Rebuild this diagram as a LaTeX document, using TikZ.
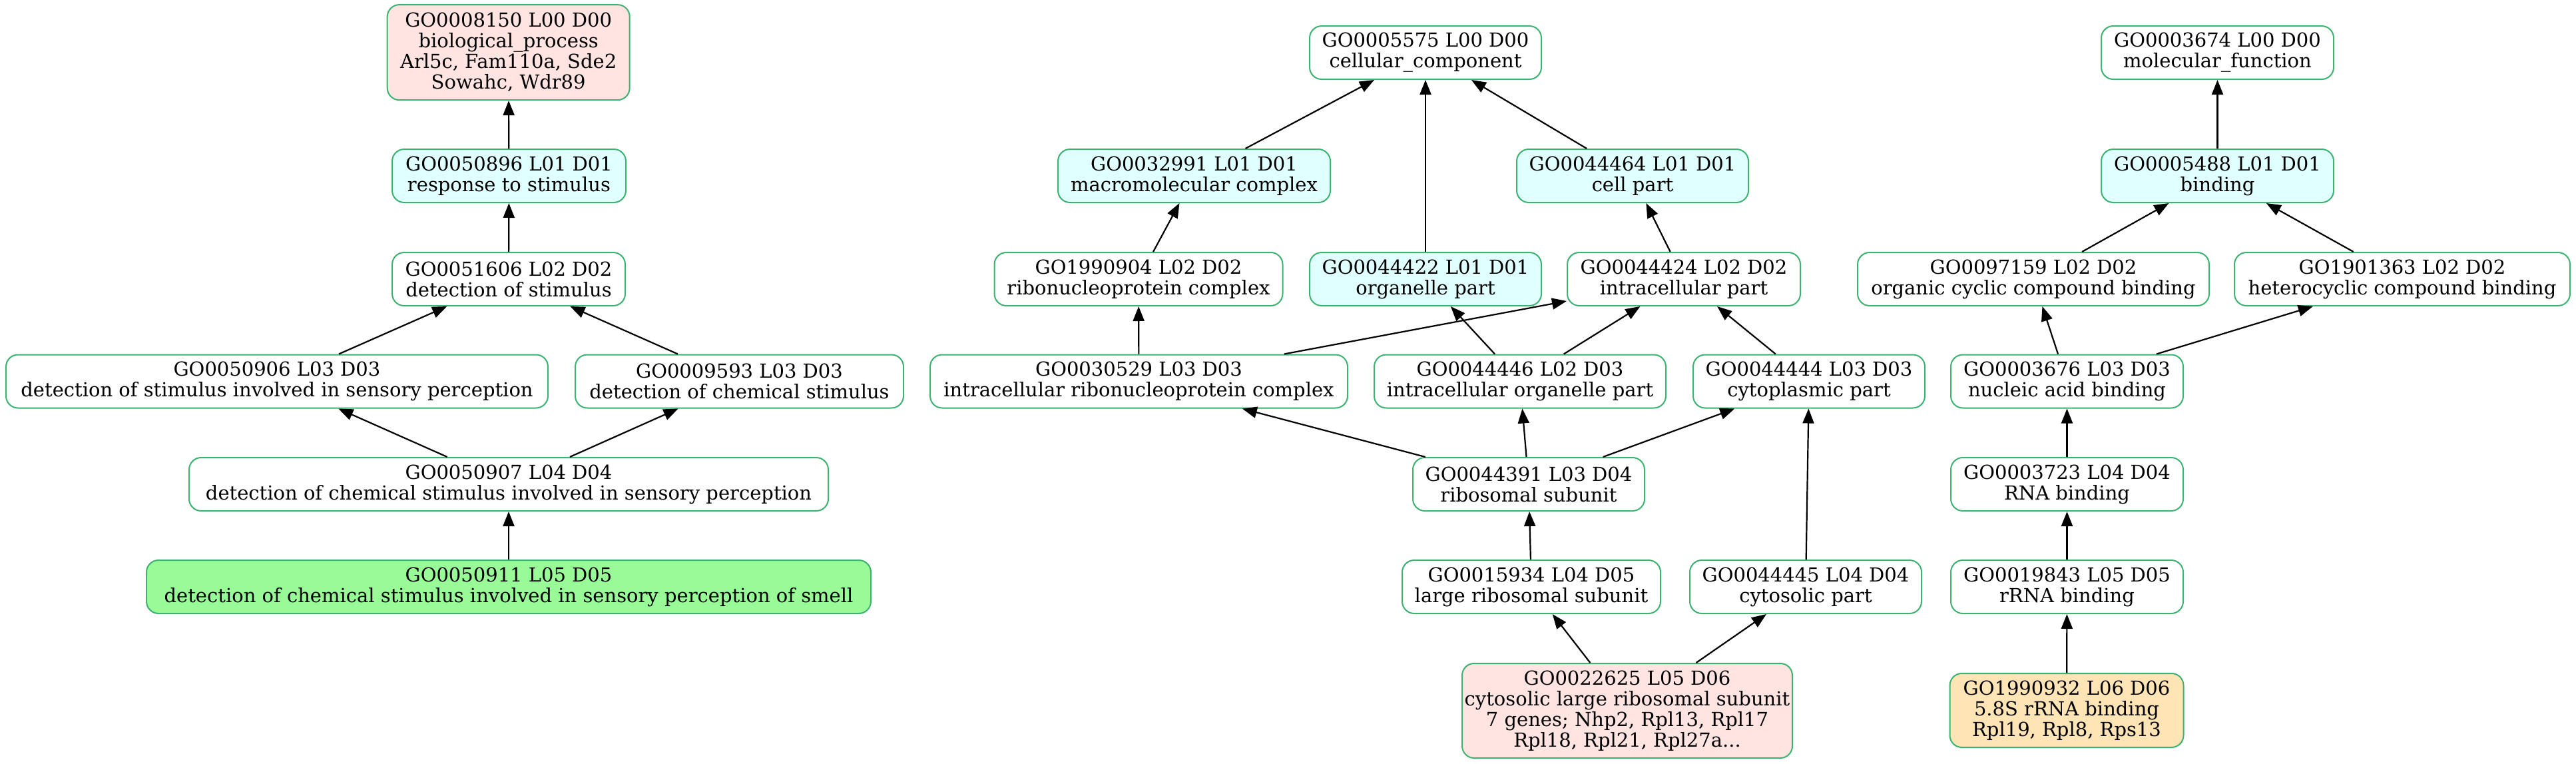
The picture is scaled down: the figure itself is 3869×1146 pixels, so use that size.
\documentclass[tikz,border=0pt]{standalone}
\usepackage{fontspec}
\setmainfont{DejaVu Serif}
\usetikzlibrary{arrows.meta}
\definecolor{gogreen}{HTML}{3CB371}
\definecolor{gocyan}{HTML}{E0FFFF}
\definecolor{gopink}{HTML}{FFE4E1}
\definecolor{golime}{HTML}{98FB98}
\definecolor{gomocc}{HTML}{FFE4B5}
\tikzset{
  gonode/.style={draw=gogreen, line width=2pt, rounded corners=18pt, align=center,
    inner sep=0pt, minimum height=80pt, fill=white,
    font=\fontsize{29pt}{31pt}\selectfont},
  cyannode/.style={gonode, fill=gocyan},
  pinknode/.style={gonode, fill=gopink},
  limenode/.style={gonode, fill=golime},
  moccnode/.style={gonode, fill=gomocc},
  goedge/.style={draw=black, line width=2.2pt, -{Triangle[length=22pt,width=17pt]}}
}
\begin{document}
\begin{tikzpicture}[x=1pt,y=-1pt]
\useasboundingbox[fill=white] (0,0) rectangle (3869,1146);
% biological process
\node[pinknode, minimum width=364pt, minimum height=143pt] (n8150) at (763.7,78.6) {GO0008150 L00 D00\\biological\_process\\Arl5c, Fam110a, Sde2\\Sowahc, Wdr89};
\node[cyannode, minimum width=351pt] (n50896) at (764.5,264) {GO0050896 L01 D01\\response to stimulus};
\node[gonode, minimum width=350pt] (n51606) at (764,419) {GO0051606 L02 D02\\detection of stimulus};
\node[gonode, minimum width=814pt] (n50906) at (416,572.5) {GO0050906 L03 D03\\detection of stimulus involved in sensory perception};
\node[gonode, minimum width=493pt] (n9593) at (1110.5,572.5) {GO0009593 L03 D03\\detection of chemical stimulus};
\node[gonode, minimum width=960pt] (n50907) at (764,727) {GO0050907 L04 D04\\detection of chemical stimulus involved in sensory perception};
\node[limenode, minimum width=1088pt] (n50911) at (764,881) {GO0050911 L05 D05\\detection of chemical stimulus involved in sensory perception of smell};
% cellular component
\node[gonode, minimum width=348pt] (n5575) at (2141,79) {GO0005575 L00 D00\\cellular\_component};
\node[cyannode, minimum width=409pt] (n32991) at (1793.5,264) {GO0032991 L01 D01\\macromolecular complex};
\node[cyannode, minimum width=348pt] (n44464) at (2452,264) {GO0044464 L01 D01\\cell part};
\node[gonode, minimum width=433pt] (n1990904) at (1710,419) {GO1990904 L02 D02\\ribonucleoprotein complex};
\node[cyannode, minimum width=348pt] (n44422) at (2141,419) {GO0044422 L01 D01\\organelle part};
\node[gonode, minimum width=350pt] (n44424) at (2529,419) {GO0044424 L02 D02\\intracellular part};
\node[gonode, minimum width=627pt] (n30529) at (1710.5,572.5) {GO0030529 L03 D03\\intracellular ribonucleoprotein complex};
\node[gonode, minimum width=438pt] (n44446) at (2283,572.5) {GO0044446 L02 D03\\intracellular organelle part};
\node[gonode, minimum width=348pt] (n44444) at (2717,572.5) {GO0044444 L03 D03\\cytoplasmic part};
\node[gonode, minimum width=348pt] (n44391) at (2296,727) {GO0044391 L03 D04\\ribosomal subunit};
\node[gonode, minimum width=388pt] (n15934) at (2300,881) {GO0015934 L04 D05\\large ribosomal subunit};
\node[gonode, minimum width=348pt] (n44445) at (2712,881) {GO0044445 L04 D04\\cytosolic part};
\node[pinknode, minimum width=496pt, minimum height=142pt] (n22625) at (2444,1067) {GO0022625 L05 D06\\cytosolic large ribosomal subunit\\7 genes; Nhp2, Rpl13, Rpl17\\Rpl18, Rpl21, Rpl27a...};
% molecular function
\node[gonode, minimum width=349pt] (n3674) at (3330.5,79) {GO0003674 L00 D00\\molecular\_function};
\node[cyannode, minimum width=349pt] (n5488) at (3330.5,264) {GO0005488 L01 D01\\binding};
\node[gonode, minimum width=528pt] (n97159) at (3054,419) {GO0097159 L02 D02\\organic cyclic compound binding};
\node[gonode, minimum width=504pt] (n1901363) at (3608,419) {GO1901363 L02 D02\\heterocyclic compound binding};
\node[gonode, minimum width=349pt] (n3676) at (3104.5,572.5) {GO0003676 L03 D03\\nucleic acid binding};
\node[gonode, minimum width=349pt] (n3723) at (3104.5,727) {GO0003723 L04 D04\\RNA binding};
\node[gonode, minimum width=349pt] (n19843) at (3104.5,881) {GO0019843 L05 D05\\rRNA binding};
\node[moccnode, minimum width=351pt, minimum height=111pt] (n1990932) at (3104,1066.5) {GO1990932 L06 D06\\5.8S rRNA binding\\Rpl19, Rpl8, Rps13};
% edges
\draw[goedge] (n50896) -- (n8150);
\draw[goedge] (n51606) -- (n50896);
\draw[goedge] (n50906) -- (n51606);
\draw[goedge] (n9593) -- (n51606);
\draw[goedge] (n50907) -- (n50906);
\draw[goedge] (n50907) -- (n9593);
\draw[goedge] (n50911) -- (n50907);
\draw[goedge] (n32991) -- (n5575);
\draw[goedge] (n44422) -- (n5575);
\draw[goedge] (n44464) -- (n5575);
\draw[goedge] (n1990904) -- (n32991);
\draw[goedge] (n44424) -- (n44464);
\draw[goedge] (n30529) -- (n1990904);
\draw[goedge] (n30529) -- (n44424);
\draw[goedge] (n44446) -- (n44422);
\draw[goedge] (n44446) -- (n44424);
\draw[goedge] (n44444) -- (n44424);
\draw[goedge] (n44391) -- (n30529);
\draw[goedge] (n44391) -- (n44446);
\draw[goedge] (n44391) -- (n44444);
\draw[goedge] (n15934) -- (n44391);
\draw[goedge] (n44445) -- (n44444);
\draw[goedge] (n22625) -- (n15934);
\draw[goedge] (n22625) -- (n44445);
\draw[goedge] (n5488) -- (n3674);
\draw[goedge] (n97159) -- (n5488);
\draw[goedge] (n1901363) -- (n5488);
\draw[goedge] (n3676) -- (n97159);
\draw[goedge] (n3676) -- (n1901363);
\draw[goedge] (n3723) -- (n3676);
\draw[goedge] (n19843) -- (n3723);
\draw[goedge] (n1990932) -- (n19843);
\end{tikzpicture}
\end{document}
